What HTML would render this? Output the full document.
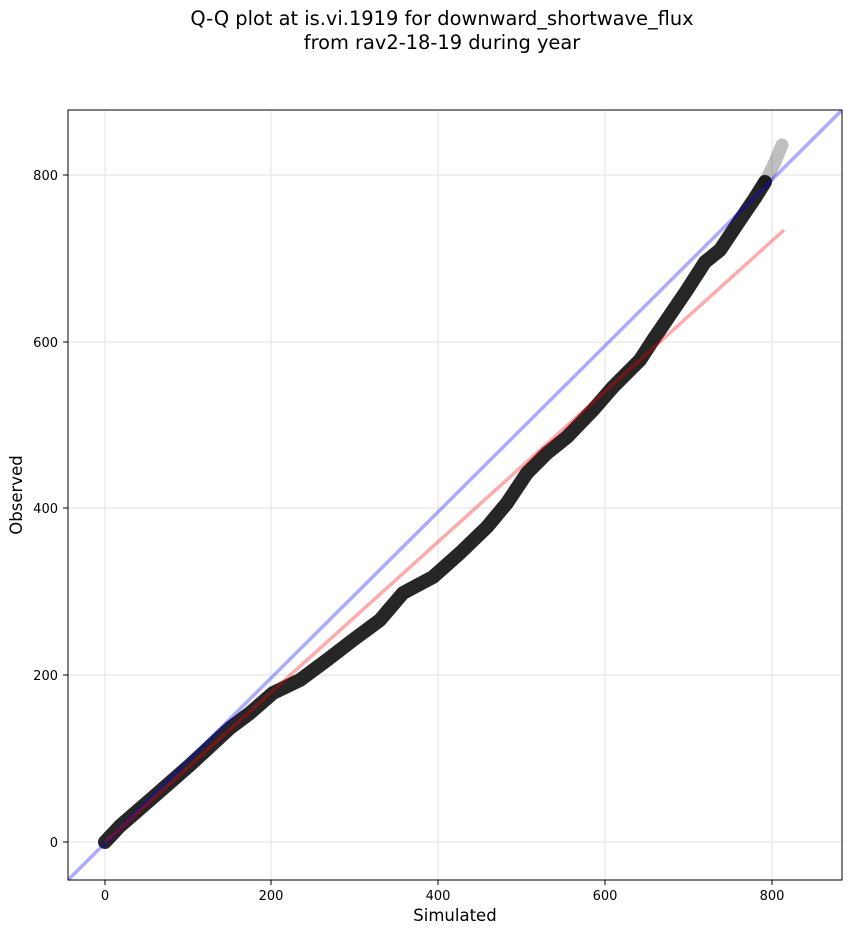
<!DOCTYPE html>
<html><head><meta charset="utf-8"><style>
body{margin:0;background:#fff;}
svg text{font-family:"DejaVu Sans","Liberation Sans",sans-serif;}
</style></head><body>
<svg width="851" height="934" xmlns="http://www.w3.org/2000/svg">
<rect width="851" height="934" fill="#fff"/>
<text x="442" y="25" font-size="19.4" text-anchor="middle">Q-Q plot at is.vi.1919 for downward_shortwave_flux</text>
<text x="442" y="49" font-size="19.4" text-anchor="middle">from rav2-18-19 during year</text>
<defs><clipPath id="c"><rect x="68" y="110" width="774" height="770"/></clipPath></defs>
<g stroke="#ebebeb" stroke-width="1.5">
<line x1="105" y1="110" x2="105" y2="880"/><line x1="271" y1="110" x2="271" y2="880"/>
<line x1="438" y1="110" x2="438" y2="880"/><line x1="605" y1="110" x2="605" y2="880"/>
<line x1="772" y1="110" x2="772" y2="880"/>
<line x1="68" y1="842" x2="842" y2="842"/><line x1="68" y1="675" x2="842" y2="675"/>
<line x1="68" y1="508" x2="842" y2="508"/><line x1="68" y1="342" x2="842" y2="342"/>
<line x1="68" y1="175" x2="842" y2="175"/>
</g>
<g clip-path="url(#c)">
<polyline fill="none" stroke="#000" stroke-opacity="0.85" stroke-width="14" stroke-linecap="round" stroke-linejoin="round"
points="105,842 120,826 150,800 190,765 230,728 250,713 273,693 300,680 327,660 353,640 380,620 403,593 433,577 460,553 487,527 507,503 527,473 547,453 567,437 593,410 613,387 640,360 653,340 670,315 687,290 705,262 720,250 738,223 755,198 765,182"/>
<polyline fill="none" stroke="#000" stroke-opacity="0.25" stroke-width="13" stroke-linecap="round" points="765,182 775,162 782,145"/>
<line x1="68" y1="880" x2="842" y2="110" stroke="#00f" stroke-opacity="0.33" stroke-width="3.5"/>
<line x1="105" y1="842" x2="784" y2="230" stroke="#f00" stroke-opacity="0.33" stroke-width="3.5"/>
</g>
<rect x="68" y="110" width="774" height="770" fill="none" stroke="#000" stroke-width="1"/>
<g stroke="#000"><line x1="105" y1="880" x2="105" y2="885"/><line x1="271" y1="880" x2="271" y2="885"/><line x1="438" y1="880" x2="438" y2="885"/><line x1="605" y1="880" x2="605" y2="885"/><line x1="772" y1="880" x2="772" y2="885"/>
<line x1="63" y1="842" x2="68" y2="842"/><line x1="63" y1="675" x2="68" y2="675"/><line x1="63" y1="508" x2="68" y2="508"/><line x1="63" y1="342" x2="68" y2="342"/><line x1="63" y1="175" x2="68" y2="175"/></g>
<g font-size="13" text-anchor="middle"><text x="105" y="900">0</text><text x="271" y="900">200</text><text x="438" y="900">400</text><text x="605" y="900">600</text><text x="772" y="900">800</text></g>
<g font-size="13" text-anchor="end"><text x="58" y="847">0</text><text x="58" y="680">200</text><text x="58" y="513">400</text><text x="58" y="347">600</text><text x="58" y="180">800</text></g>
<text x="455" y="921" font-size="16.5" text-anchor="middle">Simulated</text>
<text x="22" y="495" font-size="16.5" text-anchor="middle" transform="rotate(-90 22 495)">Observed</text>
</svg>
</body></html>
